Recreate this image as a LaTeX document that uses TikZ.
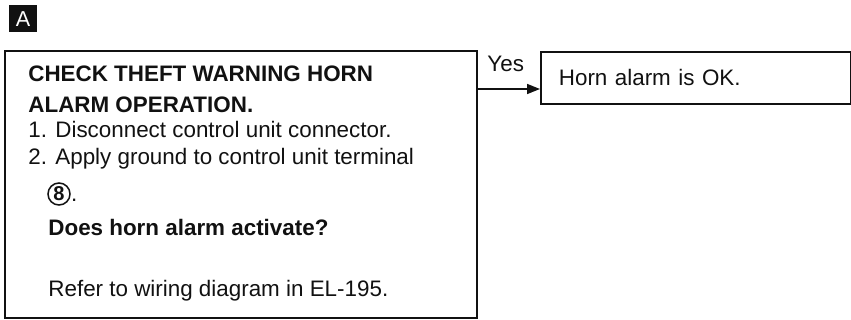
\documentclass[tikz,border=0pt]{standalone}
\usepackage{fontspec}
\setmainfont{Liberation Sans}
\usepackage{tikz}
\usetikzlibrary{arrows.meta, positioning}
\definecolor{Ink}{HTML}{111111}

\begin{document}
\begin{tikzpicture}[x=0.5pt, y=-0.5pt,
    font=\fontsize{11.2}{13}\selectfont, Ink,
    stepbox/.style={draw=Ink, line width=0.9pt, inner sep=0pt, anchor=north west},
    txt/.style={anchor=base west, inner sep=0pt},
    arr/.style={-{Triangle[length=6.5pt, width=5pt]}, line width=0.8pt}]
  \useasboundingbox (0,0) rectangle (851,320);
  % Badge
  \node[fill=Ink, text=white, minimum width=14pt, minimum height=13.5pt, inner sep=0pt, font=\fontsize{10.8}{13}\selectfont] (badge) at (23,19) {A};
  % Boxes
  \node[stepbox, minimum width=236pt, minimum height=133.5pt] (check) at (4,50) {};
  \node[stepbox, minimum width=155pt, minimum height=26pt, text width=137pt, align=left] (ok) at (540,51) {Horn alarm is OK.};
  % Text of the check box
  \node[txt, font=\fontsize{11.2}{13}\selectfont\bfseries] (head1) at (28,82) {CHECK THEFT WARNING HORN};
  \node[txt, font=\fontsize{11.2}{13}\selectfont\bfseries] (head2) at (28,113) {ALARM OPERATION.};
  \node[txt] (step1) at (28,138) {1. Disconnect control unit connector.};
  \node[txt] (step2) at (28,165) {2. Apply ground to control unit terminal};
  \node[circle, draw=Ink, line width=0.75pt, minimum size=11pt, inner sep=0pt, font=\fontsize{10}{12}\selectfont\bfseries] (term) at (59,194) {8};
  \node[txt] (dot) at (term.east |- 0,202) {.};
  \node[txt, font=\fontsize{11.2}{13}\selectfont\bfseries] (ask) at (48,235) {Does horn alarm activate?};
  \node[txt] (refer) at (48,296) {Refer to wiring diagram in EL-195.};
  % Yes branch
  \coordinate (yes) at (check.east |- 0,89);
  \draw[arr] (yes) -- (yes -| ok.west);
  \node[txt] (yeslbl) at (487,72) {Yes};
\end{tikzpicture}
\end{document}
